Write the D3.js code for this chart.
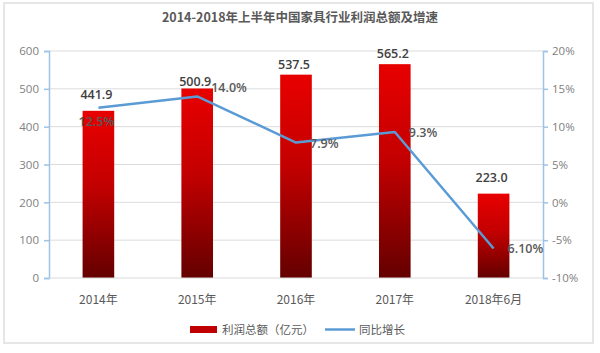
<!DOCTYPE html>
<html>
<head>
<meta charset="utf-8">
<script src="https://cdn.jsdelivr.net/npm/d3@7"></script>
<style>
  body { margin: 0; background: #fff; }
  svg text { font-family: "Open Sans", "Noto Sans CJK SC", sans-serif; }
</style>
</head>
<body>
<div id="container"></div>
<script>
/* DATA */
const years = ["2014年", "2015年", "2016年", "2017年", "2018年6月"];
const profit = [441.9, 500.9, 537.5, 565.2, 223.0];
const growth = [12.5, 14.0, 7.9, 9.3, -6.1];
const growthLabels = ["12.5%", "14.0%", "7.9%", "9.3%", "6.10%"];
const leftTicks = [0, 100, 200, 300, 400, 500, 600];
const rightTicks = [-10, -5, 0, 5, 10, 15, 20];

/* CONSTANTS */
const width = 600, height = 353;
const plotLeft = 49, plotRight = 543, plotTop = 51, plotBottom = 278;
const cjk = '"Noto Sans CJK SC", sans-serif';

const svg = d3.select("#container")
  .append("svg")
  .attr("width", width)
  .attr("height", height);

// frame
svg.append("rect")
  .attr("x", 4).attr("y", 3)
  .attr("width", 589).attr("height", 340)
  .attr("fill", "none")
  .attr("stroke", "#e6e6e6")
  .attr("stroke-width", 2);

// bar gradient
const grad = svg.append("defs").append("linearGradient")
  .attr("id", "barGrad")
  .attr("x1", 0).attr("y1", 0).attr("x2", 0).attr("y2", 1);
grad.append("stop").attr("offset", "0%").attr("stop-color", "#e80000");
grad.append("stop").attr("offset", "45%").attr("stop-color", "#c30000");
grad.append("stop").attr("offset", "100%").attr("stop-color", "#640000");

/* SCALES */
const xScale = d3.scaleBand()
  .domain(years)
  .range([plotLeft, plotRight])
  .paddingInner(0.68)
  .paddingOuter(0.34);

const yLeft = d3.scaleLinear().domain([0, 600]).range([plotBottom, plotTop]);
const yRight = d3.scaleLinear().domain([-10, 20]).range([plotBottom, plotTop]);

// title
svg.append("text")
  .attr("x", 300).attr("y", 22)
  .attr("text-anchor", "middle")
  .style("font-family", cjk)
  .style("font-size", "12.5px")
  .style("font-weight", "bold")
  .attr("fill", "#595959")
  .text("2014-2018年上半年中国家具行业利润总额及增速");

// gridlines
svg.append("g")
  .selectAll("line")
  .data(leftTicks.slice(1))
  .join("line")
  .attr("x1", plotLeft).attr("x2", plotRight)
  .attr("y1", d => yLeft(d)).attr("y2", d => yLeft(d))
  .attr("stroke", "#dcdcdc")
  .attr("stroke-width", 1);

// left axis
const leftAxis = svg.append("g")
  .attr("transform", `translate(${plotLeft},0)`)
  .call(d3.axisLeft(yLeft).tickValues(leftTicks).tickSize(5).tickPadding(5));
leftAxis.selectAll("path, line").attr("stroke", "#9dc3e6").attr("stroke-width", 1.5);
leftAxis.selectAll("text")
  .attr("fill", "#808080")
  .style("font-size", "11.5px");

// right axis
const rightAxis = svg.append("g")
  .attr("transform", `translate(${plotRight},0)`)
  .call(d3.axisRight(yRight).tickValues(rightTicks).tickSize(5).tickPadding(4)
    .tickFormat(d => d + "%"));
rightAxis.selectAll("path, line").attr("stroke", "#9dc3e6").attr("stroke-width", 1.5);
rightAxis.selectAll("text")
  .attr("fill", "#808080")
  .style("font-size", "11.5px");

// bars
svg.selectAll("rect.bar")
  .data(profit)
  .join("rect")
  .attr("class", "bar")
  .attr("x", (d, i) => xScale(years[i]))
  .attr("y", d => yLeft(d))
  .attr("width", xScale.bandwidth())
  .attr("height", d => plotBottom - yLeft(d))
  .attr("fill", "url(#barGrad)");

// baseline
svg.append("line")
  .attr("x1", plotLeft).attr("x2", plotRight)
  .attr("y1", plotBottom).attr("y2", plotBottom)
  .attr("stroke", "#d9d9d9");

// x labels
svg.selectAll("text.xlab")
  .data(years)
  .join("text")
  .attr("class", "xlab")
  .attr("x", d => xScale(d) + xScale.bandwidth() / 2)
  .attr("y", 304)
  .attr("text-anchor", "middle")
  .style("font-family", cjk)
  .style("font-size", "12px")
  .attr("fill", "#595959")
  .text(d => d);

// growth line
const cx = i => xScale(years[i]) + xScale.bandwidth() / 2;
const line = d3.line()
  .x((d, i) => cx(i))
  .y(d => yRight(d));

svg.append("path")
  .datum(growth)
  .attr("d", line)
  .attr("fill", "none")
  .attr("stroke", "#5b9bd5")
  .attr("stroke-width", 2.5)
  .attr("stroke-linejoin", "round");

// bar value labels
const valueDy = [-12, -2, -6, -6, -12];
svg.selectAll("text.val")
  .data(profit)
  .join("text")
  .attr("class", "val")
  .attr("x", (d, i) => cx(i) - 2)
  .attr("y", (d, i) => yLeft(d) + valueDy[i])
  .attr("text-anchor", "middle")
  .style("font-size", "12.5px")
  .style("font-weight", "600")
  .attr("fill", "#404040")
  .text(d => d.toFixed(1));

// growth labels (first one sits below its point, rest to the right)
svg.selectAll("text.pct")
  .data(growth)
  .join("text")
  .attr("class", "pct")
  .attr("x", (d, i) => i === 0 ? cx(i) - 2 : cx(i) + 14)
  .attr("y", (d, i) => i === 0 ? yRight(d) + 18 : (i === 1 ? yRight(d) - 4 : yRight(d) + 5))
  .attr("text-anchor", (d, i) => i === 0 ? "middle" : "start")
  .style("font-size", "12.5px")
  .style("font-weight", "600")
  .attr("fill", "#595959")
  .text((d, i) => growthLabels[i]);

// legend
const legend = svg.append("g");
legend.append("rect")
  .attr("x", 190).attr("y", 326)
  .attr("width", 27).attr("height", 7)
  .attr("fill", "#c00000");
legend.append("text")
  .attr("x", 222).attr("y", 334)
  .style("font-family", cjk)
  .style("font-size", "11.5px")
  .attr("fill", "#595959")
  .text("利润总额（亿元）");
legend.append("line")
  .attr("x1", 325).attr("x2", 355)
  .attr("y1", 329.5).attr("y2", 329.5)
  .attr("stroke", "#5b9bd5")
  .attr("stroke-width", 2.5);
legend.append("text")
  .attr("x", 359).attr("y", 334)
  .style("font-family", cjk)
  .style("font-size", "11.5px")
  .attr("fill", "#595959")
  .text("同比增长");
</script>
</body>
</html>
